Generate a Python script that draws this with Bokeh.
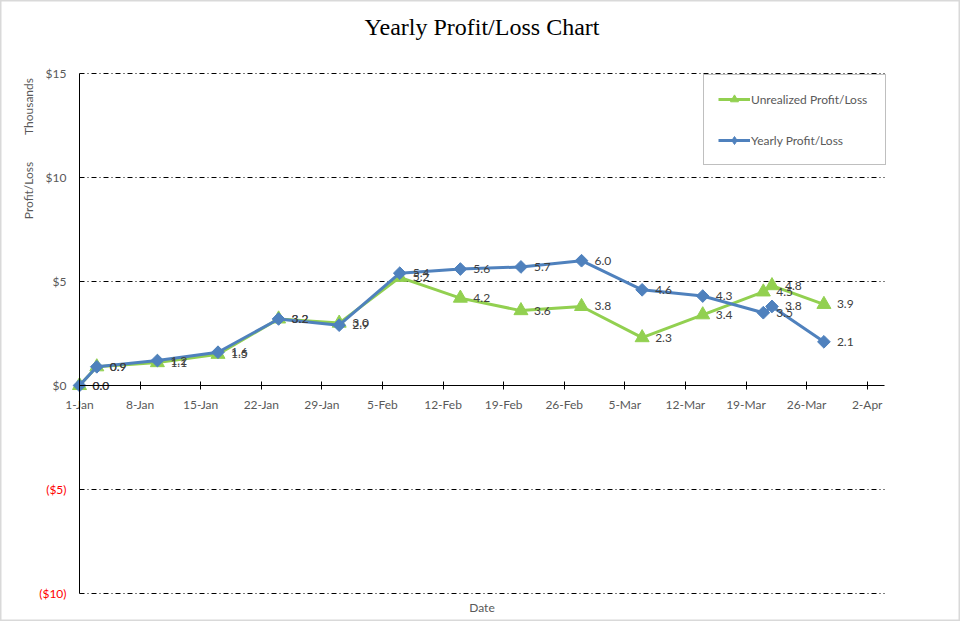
import math
import pandas as pd
from bokeh.plotting import figure
from bokeh.models import FixedTicker, Label, Legend, LegendItem, Range1d
from bokeh.core.properties import value
from bokeh.embed import file_html
from bokeh.resources import INLINE

# ---- data (values in thousands of $) ----
dates = ["2013-01-01", "2013-01-03", "2013-01-10", "2013-01-17", "2013-01-24",
         "2013-01-31", "2013-02-07", "2013-02-14", "2013-02-21", "2013-02-28",
         "2013-03-07", "2013-03-14", "2013-03-21", "2013-03-22", "2013-03-28"]
yearly = [0.0, 0.9, 1.2, 1.6, 3.2, 2.9, 5.4, 5.6, 5.7, 6.0, 4.6, 4.3, 3.5, 3.8, 2.1]
unrealized = [0.0, 0.9, 1.1, 1.5, 3.2, 3.0, 5.2, 4.2, 3.6, 3.8, 2.3, 3.4, 4.5, 4.8, 3.9]

x_tick_labels = ["1-Jan", "8-Jan", "15-Jan", "22-Jan", "29-Jan", "5-Feb", "12-Feb",
                 "19-Feb", "26-Feb", "5-Mar", "12-Mar", "19-Mar", "26-Mar", "2-Apr"]
y_ticks = [-10, -5, 0, 5, 10, 15]
y_tick_labels = ["($10)", "($5)", "$0", "$5", "$10", "$15"]
x_end_date = "2013-04-04"
year = 2013

start = pd.Timestamp(dates[0])
days = [(pd.Timestamp(d) - start).days for d in dates]
x_tick_pos = [(pd.to_datetime(f"{t}-{year}", format="%d-%b-%Y") - start).days for t in x_tick_labels]
x_end = (pd.Timestamp(x_end_date) - start).days
y_lo, y_hi = y_ticks[0], y_ticks[-1]

# ---- layout (pixels) ----
W, H = 960, 621
PL, PR, PT, PB = 79, 884, 73, 593   # plot-area edges
ppx = (PR - PL) / x_end
ppy = (PB - PT) / (y_hi - y_lo)

GREEN = "#92D050"
BLUE = "#4F81BD"
GRAY = "#595959"
FONT = "Lato"

p = figure(width=W, height=H, output_backend="svg", toolbar_location=None,
           x_range=Range1d(-PL / ppx, (W - PL) / ppx),
           y_range=Range1d(y_lo - (H - PB) / ppy, y_hi + PT / ppy),
           min_border=0, min_border_left=0, min_border_right=0,
           min_border_top=0, min_border_bottom=0)
p.outline_line_color = "#D9D9D9"
p.outline_line_width = 2
p.background_fill_color = "white"
p.border_fill_color = "white"
p.xgrid.visible = False
p.ygrid.visible = False

# dash-dot gridlines across the plot area
grid_vals = [t for t in y_ticks if t != 0]
p.segment(x0=[0] * len(grid_vals), x1=[x_end] * len(grid_vals), y0=grid_vals, y1=grid_vals,
          line_color="black", line_width=1, line_dash="5 3 1 3")

# x axis crossing at y=0
xa = p.xaxis[0]
xa.fixed_location = 0
xa.bounds = (0, x_end)
xa.ticker = FixedTicker(ticks=x_tick_pos)
xa.major_label_overrides = {int(pos): lab for pos, lab in zip(x_tick_pos, x_tick_labels)}
xa.major_tick_in = 4
xa.major_tick_out = 4
xa.minor_tick_line_color = None
xa.axis_line_color = "black"
xa.major_tick_line_color = "black"
xa.major_label_standoff = 7
xa.major_label_text_font = FONT
xa.major_label_text_font_size = "12px"
xa.major_label_text_color = GRAY

# y axis at x = first date
ya = p.yaxis[0]
ya.fixed_location = 0
ya.bounds = (y_lo, y_hi)
ya.ticker = FixedTicker(ticks=y_ticks)
ya.major_label_overrides = {t: (lab if t >= 0 else "") for t, lab in zip(y_ticks, y_tick_labels)}
ya.major_tick_in = 0
ya.major_tick_out = 0
ya.minor_tick_line_color = None
ya.axis_line_color = "black"
ya.major_label_standoff = 13
ya.major_label_text_font = FONT
ya.major_label_text_font_size = "12px"
ya.major_label_text_color = GRAY

neg = [(t, lab) for t, lab in zip(y_ticks, y_tick_labels) if t < 0]
p.text(x=[0] * len(neg), y=[t for t, _ in neg], text=[lab for _, lab in neg], x_offset=-13,
       text_align="right", text_baseline="middle", text_color="#FF0000",
       text_font=value(FONT), text_font_size="12px")

# series
gline = p.line(days, unrealized, line_color=GREEN, line_width=3)
p.scatter(days, unrealized, marker="triangle", size=14, fill_color=GREEN, line_color=GREEN)
bline = p.line(days, yearly, line_color=BLUE, line_width=3)
p.scatter(days, yearly, marker="square", angle=math.pi / 4, size=9,
          fill_color=BLUE, line_color=BLUE)

# legend-only markers (not drawn in the plot: NaN position)
nan = float("nan")
gdum = p.scatter([nan], [nan], marker="triangle", size=10, fill_color=GREEN, line_color=GREEN)
bdum = p.scatter([nan], [nan], marker="diamond", size=7, fill_color=BLUE, line_color=BLUE)

# data labels
p.text(days, unrealized, text=[f"{v:.1f}" for v in unrealized], x_offset=13,
       text_align="left", text_baseline="middle", text_font=value(FONT),
       text_font_size="12px", text_color="#404040")
p.text(days, yearly, text=[f"{v:.1f}" for v in yearly], x_offset=13,
       text_align="left", text_baseline="middle", text_font=value(FONT),
       text_font_size="12px", text_color="#404040")

legend = Legend(items=[LegendItem(label="Unrealized Profit/Loss", renderers=[gline, gdum], index=0),
                       LegendItem(label="Yearly Profit/Loss", renderers=[bline, bdum], index=0)],
                location=(703, H - 165), orientation="vertical")
legend.padding = 14
legend.margin = 0
legend.spacing = 21
legend.glyph_width = 32
legend.glyph_height = 20
legend.label_height = 20
legend.label_width = 120
legend.label_standoff = 1
legend.label_text_font = FONT
legend.label_text_font_size = "12px"
legend.label_text_color = GRAY
legend.border_line_color = "#808080"
legend.border_line_width = 1
legend.background_fill_color = "white"
legend.background_fill_alpha = 1
p.add_layout(legend, "center")

mid = x_end / 2
# title
p.add_layout(Label(x=mid, y=y_hi, y_offset=47, text="Yearly Profit/Loss Chart",
                   text_align="center", text_baseline="middle", text_color="black",
                   text_font="Liberation Serif", text_font_size="24px"))
# axis titles
p.add_layout(Label(x=0, y=y_hi, x_offset=-51, y_offset=-33, text="Thousands",
                   angle=math.pi / 2, text_align="center", text_baseline="middle",
                   text_color=GRAY, text_font=FONT, text_font_size="12px"))
p.add_layout(Label(x=0, y=y_hi, x_offset=-51, y_offset=-117, text="Profit/Loss",
                   angle=math.pi / 2, text_align="center", text_baseline="middle",
                   text_color=GRAY, text_font=FONT, text_font_size="12px"))
p.add_layout(Label(x=mid, y=y_lo, y_offset=-14, text="Date",
                   text_align="center", text_baseline="middle",
                   text_color=GRAY, text_font=FONT, text_font_size="12px"))

open("out.html", "w").write(file_html(p, INLINE))
